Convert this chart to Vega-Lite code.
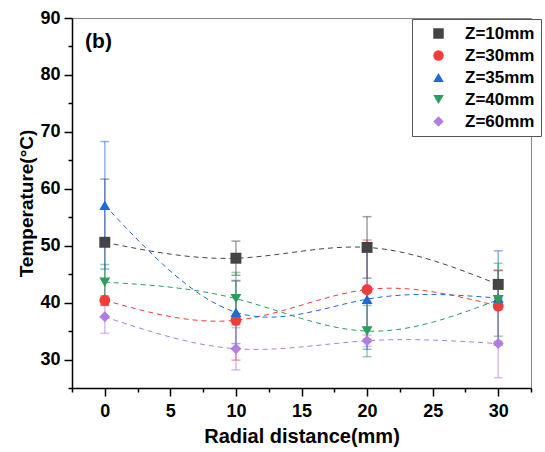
{
  "$schema": "https://vega.github.io/schema/vega-lite/v6.json",
  "width": 459,
  "height": 370,
  "autosize": {"type": "none"},
  "padding": {"left": 72, "top": 18, "right": 14, "bottom": 64},
  "background": "white",
  "config": {
    "font": "Liberation Sans",
    "view": {"stroke": "#888", "strokeWidth": 1},
    "axis": {
      "domainColor": "black", "domainWidth": 1.5, "tickColor": "black", "tickWidth": 1.5,
      "labelFont": "Liberation Sans", "labelFontWeight": "bold", "labelFontSize": 18, "labelColor": "black",
      "titleFont": "Liberation Sans", "titleFontWeight": "bold", "titleColor": "black", "grid": false
    },
    "legend": {
      "labelFont": "Liberation Sans", "labelFontWeight": "bold", "labelFontSize": 17, "labelColor": "black"
    }
  },
  "data": {"values": [
    {"z": "Z=10mm", "r": 0, "t": 50.6, "e": 11.1},
    {"z": "Z=10mm", "r": 10, "t": 47.8, "e": 3.0},
    {"z": "Z=10mm", "r": 20, "t": 49.7, "e": 5.4},
    {"z": "Z=10mm", "r": 30, "t": 43.2, "e": 2.5},
    {"z": "Z=30mm", "r": 0, "t": 40.4, "e": 0.8},
    {"z": "Z=30mm", "r": 10, "t": 36.9, "e": 7.0},
    {"z": "Z=30mm", "r": 20, "t": 42.3, "e": 8.7},
    {"z": "Z=30mm", "r": 30, "t": 39.4, "e": 6.2},
    {"z": "Z=35mm", "r": 0, "t": 57.1, "e": 11.2},
    {"z": "Z=35mm", "r": 10, "t": 38.3, "e": 5.5},
    {"z": "Z=35mm", "r": 20, "t": 40.6, "e": 8.8},
    {"z": "Z=35mm", "r": 30, "t": 40.8, "e": 8.3},
    {"z": "Z=40mm", "r": 0, "t": 43.6, "e": 3.1},
    {"z": "Z=40mm", "r": 10, "t": 40.7, "e": 4.6},
    {"z": "Z=40mm", "r": 20, "t": 35.0, "e": 4.5},
    {"z": "Z=40mm", "r": 30, "t": 40.5, "e": 6.4},
    {"z": "Z=60mm", "r": 0, "t": 37.5, "e": 2.9},
    {"z": "Z=60mm", "r": 10, "t": 31.9, "e": 3.7},
    {"z": "Z=60mm", "r": 20, "t": 33.3, "e": 1.0},
    {"z": "Z=60mm", "r": 30, "t": 32.8, "e": 6.0}
  ]},
  "encoding": {
    "x": {
      "field": "r", "type": "quantitative",
      "scale": {"domain": [-2.5, 32.5], "nice": false, "zero": false},
      "axis": {
        "title": "Radial distance(mm)", "titleFontSize": 20, "titlePadding": 6,
        "values": [-2.5, 0, 2.5, 5, 7.5, 10, 12.5, 15, 17.5, 20, 22.5, 25, 27.5, 30, 32.5],
        "labelExpr": "datum.value % 5 == 0 ? datum.label : ''",
        "tickSize": {"condition": {"test": "datum.value % 5 != 0", "value": 4}, "value": 8},
        "labelPadding": 6
      }
    },
    "y": {
      "field": "t", "type": "quantitative",
      "scale": {"domain": [25, 90], "nice": false, "zero": false},
      "axis": {
        "title": "Temperature(°C)", "titleFontSize": 19, "titlePadding": 3,
        "values": [25, 30, 35, 40, 45, 50, 55, 60, 65, 70, 75, 80, 85, 90],
        "labelExpr": "datum.value % 10 == 0 ? datum.label : ''",
        "labelOverlap": false,
        "tickSize": {"condition": {"test": "datum.value % 10 != 0", "value": 4}, "value": 8},
        "labelPadding": 4
      }
    }
  },
  "layer": [
    {
      "mark": {"type": "errorbar", "ticks": {"size": 9, "opacity": 0.5}, "rule": {"opacity": 0.5}, "thickness": 1.5},
      "encoding": {
        "yError": {"field": "e"},
        "color": {"field": "z", "type": "nominal", "legend": null}
      }
    },
    {
      "mark": {"type": "line", "interpolate": "natural", "strokeDash": [5, 4], "strokeWidth": 1},
      "encoding": {
        "color": {"field": "z", "type": "nominal", "legend": null}
      }
    },
    {
      "mark": {"type": "point", "filled": true, "size": 120, "opacity": 1},
      "encoding": {
        "color": {"field": "z", "type": "nominal",
          "scale": {"domain": ["Z=10mm", "Z=30mm", "Z=35mm", "Z=40mm", "Z=60mm"],
                    "range": ["#444444", "#f03c3c", "#1d6ad6", "#2a9e5a", "#b07de0"]},
          "legend": {"title": null, "orient": "none", "legendX": 340, "legendY": 1,
            "strokeColor": "#555", "padding": 6, "rowPadding": 4, "symbolOffset": 12, "labelOffset": 18,
            "symbolSize": 110, "fillColor": "white"}},
        "shape": {"field": "z", "type": "nominal",
          "scale": {"domain": ["Z=10mm", "Z=30mm", "Z=35mm", "Z=40mm", "Z=60mm"],
                    "range": ["square", "circle", "triangle-up", "triangle-down", "diamond"]},
          "legend": {"title": null, "orient": "none", "legendX": 340, "legendY": 1}}
      }
    },
    {
      "transform": [{"filter": "datum.r == 0 && datum.z == 'Z=10mm'"}],
      "mark": {"type": "text", "text": "(b)", "fontSize": 21, "fontWeight": "bold", "font": "Liberation Sans", "align": "left", "baseline": "middle", "color": "black"},
      "encoding": {"x": {"datum": -1.5}, "y": {"datum": 85.8}}
    }
  ],
  "resolve": {"legend": {"color": "independent", "shape": "independent"}}
}
